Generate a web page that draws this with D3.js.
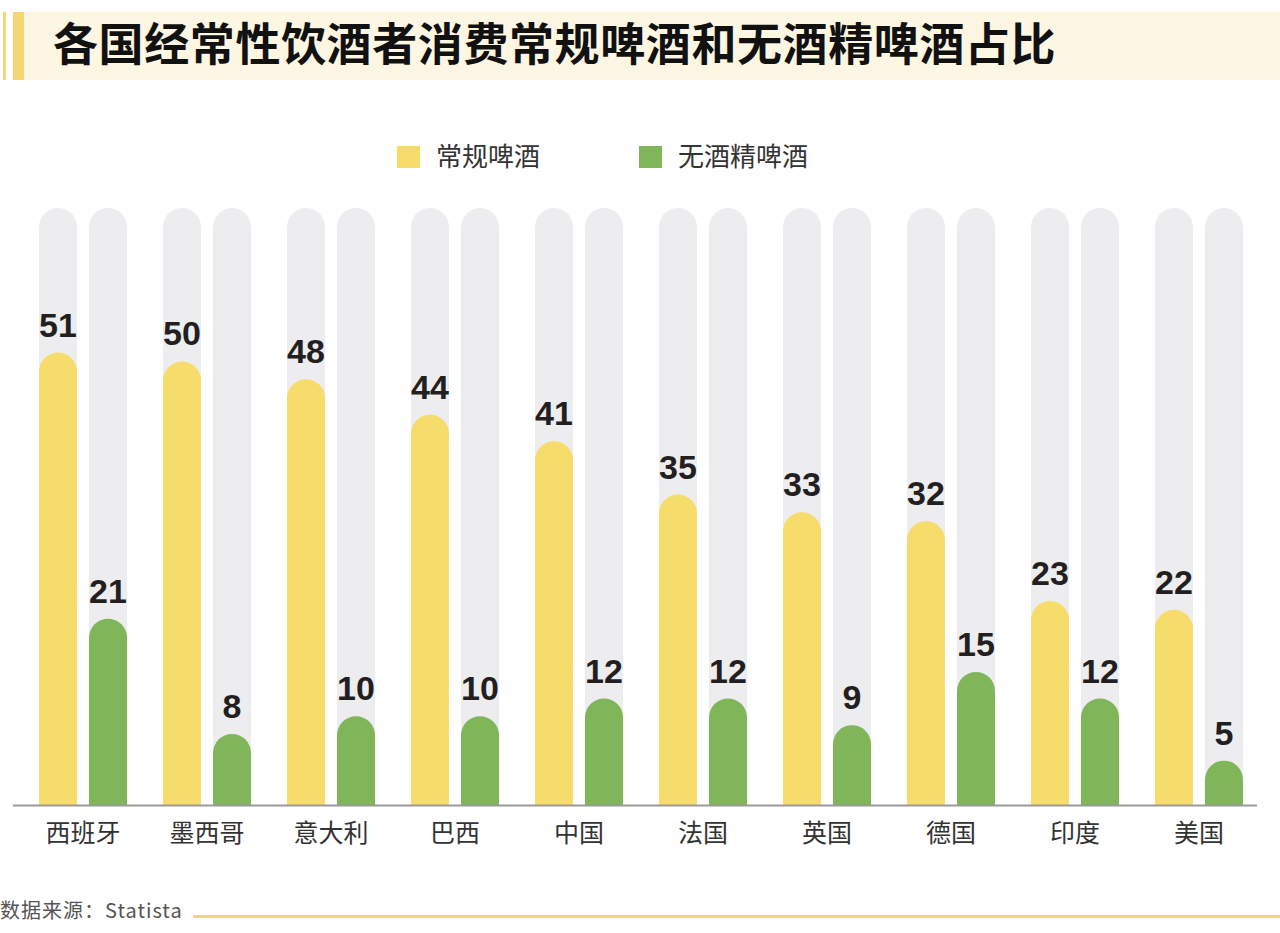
<!DOCTYPE html>
<html>
<head>
<meta charset="utf-8">
<script src="https://cdn.jsdelivr.net/npm/d3@7"></script>
<style>
  html, body { margin: 0; padding: 0; background: #fff; }
  svg { display: block; }
</style>
</head>
<body>
<svg id="chart" width="1280" height="933"></svg>
<script>
var TITLE = '各国经常性饮酒者消费常规啤酒和无酒精啤酒占比';
var SOURCE = '数据来源：Statista';

var countries = ['西班牙', '墨西哥', '意大利', '巴西', '中国', '法国', '英国', '德国', '印度', '美国'];
var seriesNames = ['常规啤酒', '无酒精啤酒'];
var regularBeer = [51, 50, 48, 44, 41, 35, 33, 32, 23, 22];
var nonAlcoholicBeer = [21, 8, 10, 10, 12, 12, 9, 15, 12, 5];
var trackMax = 67.3;

var COLORS = ['#f6dd6b', '#80b55a'],
    TRACK_COLOR = '#ededf0',
    LABEL_COLOR = '#231f20';

var BASE_Y = 805,
    TOP_Y = 208;

var svg = d3.select('#chart');

// title band
svg.append('rect').attr('x', 24).attr('y', 12).attr('width', 1256).attr('height', 68).attr('fill', '#fcf6e3');
svg.append('rect').attr('x', 3).attr('y', 12).attr('width', 3).attr('height', 68).attr('fill', '#f3d774');
svg.append('rect').attr('x', 13).attr('y', 12).attr('width', 11).attr('height', 68).attr('fill', '#f3d774');
svg.append('text')
    .attr('x', 53).attr('y', 61)
    .attr('font-family', '"Noto Sans CJK SC", sans-serif')
    .attr('font-weight', 'bold')
    .attr('font-size', 45)
    .attr('letter-spacing', 0.6)
    .attr('fill', '#111')
    .text(TITLE);

// legend
var legendX = [397, 639];
var legend = svg.append('g').selectAll('g')
    .data(seriesNames)
    .enter().append('g')
    .attr('transform', function (d, i) { return 'translate(' + legendX[i] + ',146)'; });
legend.append('rect').attr('width', 23).attr('height', 22)
    .attr('fill', function (d, i) { return COLORS[i]; });
legend.append('text')
    .attr('x', 39).attr('y', 20)
    .attr('font-family', '"Noto Sans CJK SC", sans-serif')
    .attr('font-size', 26)
    .attr('fill', '#333')
    .text(function (d) { return d; });

// scales
var x0 = d3.scaleBand().domain(countries).range([39, 1243]).paddingInner(0.29).paddingOuter(0);
var x1 = d3.scaleBand().domain(seriesNames).range([0, x0.bandwidth()]).paddingInner(0.24).paddingOuter(0);
var y = d3.scaleLinear().domain([0, trackMax]).range([BASE_Y, TOP_Y]);

var rows = countries.map(function (c, i) {
    return { country: c, values: [regularBeer[i], nonAlcoholicBeer[i]] };
});

// bar with rounded top, flat bottom
function roundTop(x, top, w, bottom) {
    var r = w / 2;
    var p = d3.path();
    p.moveTo(x, bottom);
    p.lineTo(x, top + r);
    p.arc(x + r, top + r, r, Math.PI, 0);
    p.lineTo(x + w, bottom);
    p.closePath();
    return p.toString();
}

var groups = svg.append('g').selectAll('g')
    .data(rows)
    .enter().append('g')
    .attr('transform', function (d) { return 'translate(' + x0(d.country) + ',0)'; });

var cells = groups.selectAll('g')
    .data(function (d) {
        return d.values.map(function (v, i) { return { key: seriesNames[i], value: v, i: i }; });
    })
    .enter().append('g');

cells.append('path')
    .attr('fill', TRACK_COLOR)
    .attr('d', function (d) { return roundTop(x1(d.key), y(trackMax), x1.bandwidth(), y(0)); });

cells.append('path')
    .attr('fill', function (d) { return COLORS[d.i]; })
    .attr('d', function (d) { return roundTop(x1(d.key), y(d.value), x1.bandwidth(), y(0)); });

cells.append('text')
    .attr('x', function (d) { return x1(d.key) + x1.bandwidth() / 2; })
    .attr('y', function (d) { return y(d.value) - 16; })
    .attr('text-anchor', 'middle')
    .attr('font-family', '"Liberation Sans", Arial, sans-serif')
    .attr('font-weight', 'bold')
    .attr('font-size', 34)
    .attr('fill', LABEL_COLOR)
    .text(function (d) { return d.value; });

// baseline + category labels
svg.append('line')
    .attr('x1', 13).attr('x2', 1257)
    .attr('y1', BASE_Y + 0.5).attr('y2', BASE_Y + 0.5)
    .attr('stroke', '#9a9a9a').attr('stroke-width', 2);

svg.append('g').selectAll('text')
    .data(countries)
    .enter().append('text')
    .attr('x', function (d) { return x0(d) + x0.bandwidth() / 2; })
    .attr('y', 842)
    .attr('text-anchor', 'middle')
    .attr('font-family', '"Noto Sans CJK SC", sans-serif')
    .attr('font-size', 25)
    .attr('fill', '#333')
    .text(function (d) { return d; });

// source
svg.append('text')
    .attr('x', 0).attr('y', 918)
    .attr('font-family', '"Noto Sans CJK SC", sans-serif')
    .attr('font-size', 20)
    .attr('letter-spacing', 1)
    .attr('fill', '#555')
    .text(SOURCE);
svg.append('rect').attr('x', 193).attr('y', 915).attr('width', 1087).attr('height', 3).attr('fill', '#f3d774');
</script>
</body>
</html>
